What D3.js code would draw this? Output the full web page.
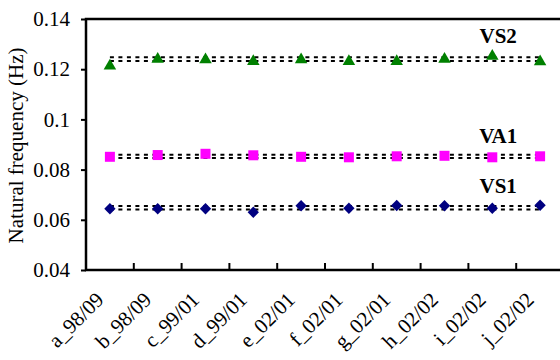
<!DOCTYPE html>
<html>
<head>
<meta charset="utf-8">
<script src="https://cdn.jsdelivr.net/npm/d3@7"></script>
<style>
  body { margin: 0; background: #fff; }
  svg { display: block; }
  text { font-family: "Liberation Serif", "Times New Roman", serif; }
</style>
</head>
<body>
<svg id="chart" width="560" height="360"></svg>
<script>
// categories (measurement campaigns)
const categories = ['a_98/09', 'b_98/09', 'c_99/01', 'd_99/01', 'e_02/01',
                    'f_02/01', 'g_02/01', 'h_02/02', 'i_02/02', 'j_02/02'];

// natural frequencies (Hz)
const vs2 = [0.1220, 0.1247, 0.1245, 0.1238, 0.1245, 0.1238, 0.1238, 0.1247, 0.1259, 0.1237];
const va1 = [0.0851, 0.0858, 0.0863, 0.0857, 0.0851, 0.0849, 0.0853, 0.0855, 0.0849, 0.0853];
const vs1 = [0.0644, 0.0644, 0.0644, 0.0630, 0.0656, 0.0646, 0.0657, 0.0656, 0.0646, 0.0658];

// dotted reference bands (upper, lower)
const vs2Band = [0.1248, 0.1233];
const va1Band = [0.0859, 0.0846];
const vs1Band = [0.0655, 0.0641];

const yTicks = [0.04, 0.06, 0.08, 0.1, 0.12, 0.14];

const margin = { top: 19, left: 86, bottom: 270, right: 564 };

const svg = d3.select('#chart');

const x = d3.scaleBand()
  .domain(categories)
  .range([margin.left, margin.right]);

const y = d3.scaleLinear()
  .domain([0.04, 0.14])
  .range([margin.bottom, margin.top]);

// triangle centred on its bounding box (like spreadsheet markers)
const triangle = {
  draw(ctx, size) {
    const s = Math.sqrt(size * 4 / Math.sqrt(3));
    const h = s * Math.sqrt(3) / 2;
    ctx.moveTo(0, -h / 2);
    ctx.lineTo(s / 2, h / 2);
    ctx.lineTo(-s / 2, h / 2);
    ctx.closePath();
  }
};

// square rotated by 45 degrees
const diamond = {
  draw(ctx, size) {
    const r = Math.sqrt(size / 2);
    ctx.moveTo(0, -r);
    ctx.lineTo(r, 0);
    ctx.lineTo(0, r);
    ctx.lineTo(-r, 0);
    ctx.closePath();
  }
};

const series = [
  { name: 'VS2', values: vs2, band: vs2Band, color: '#008000', symbol: triangle, size: 68, labelY: 0.1304 },
  { name: 'VA1', values: va1, band: va1Band, color: '#ff00ff', symbol: d3.symbolSquare, size: 100, labelY: 0.0906 },
  { name: 'VS1', values: vs1, band: vs1Band, color: '#000080', symbol: diamond, size: 64, labelY: 0.0707 }
];

const cx = d => x(d) + x.bandwidth() / 2;

// dotted lines
series.forEach(s => {
  svg.append('g')
    .selectAll('line')
    .data(s.band)
    .enter()
    .append('line')
    .attr('x1', cx(categories[0]))
    .attr('x2', cx(categories[categories.length - 1]))
    .attr('y1', d => y(d))
    .attr('y2', d => y(d))
    .attr('stroke', '#000')
    .attr('stroke-width', 2)
    .attr('stroke-dasharray', '4,4.5');
});

// markers
series.forEach(s => {
  svg.append('g')
    .selectAll('path')
    .data(s.values)
    .enter()
    .append('path')
    .attr('d', d3.symbol().type(s.symbol).size(s.size))
    .attr('transform', (d, i) => `translate(${cx(categories[i])},${y(d)})`)
    .attr('fill', s.color);

  svg.append('text')
    .attr('x', (cx(categories[8]) + cx(categories[9])) / 2 - 18)
    .attr('y', y(s.labelY))
    .attr('text-anchor', 'middle')
    .style('font-size', '21px')
    .style('font-weight', 'bold')
    .text(s.name);
});

// axes
const yAxis = d3.axisLeft(y)
  .tickValues(yTicks)
  .tickSize(5)
  .tickPadding(11)
  .tickFormat(d => d3.format('')(+d.toFixed(2)));

const gy = svg.append('g')
  .attr('transform', `translate(${margin.left},0)`)
  .call(yAxis)
  .attr('font-family', null);
gy.select('.domain').remove();
gy.selectAll('.tick line').attr('stroke-width', 2);
gy.selectAll('.tick text')
  .style('font-size', '21px')
  .attr('fill', '#000');

// inward x ticks between categories
svg.append('g')
  .selectAll('line')
  .data(categories.slice(1))
  .enter()
  .append('line')
  .attr('x1', d => x(d))
  .attr('x2', d => x(d))
  .attr('y1', margin.bottom)
  .attr('y2', margin.bottom - 7)
  .attr('stroke', '#000')
  .attr('stroke-width', 2);

// frame lines: left, bottom, top
svg.append('path')
  .attr('d', `M${margin.right},${margin.top}H${margin.left}V${margin.bottom}H${margin.right}`)
  .attr('fill', 'none')
  .attr('stroke', '#000')
  .attr('stroke-width', 2.5);

// rotated category labels
svg.append('g')
  .selectAll('text')
  .data(categories)
  .enter()
  .append('text')
  .attr('transform', d => `translate(${cx(d) - 5},${margin.bottom + 31}) rotate(-45)`)
  .attr('text-anchor', 'end')
  .style('font-size', '21px')
  .text(d => d);

// y axis title
svg.append('text')
  .attr('transform', `translate(23,${(margin.top + margin.bottom) / 2 + 1}) rotate(-90)`)
  .attr('text-anchor', 'middle')
  .style('font-size', '21px')
  .text('Natural frequency (Hz)');
</script>
</body>
</html>
